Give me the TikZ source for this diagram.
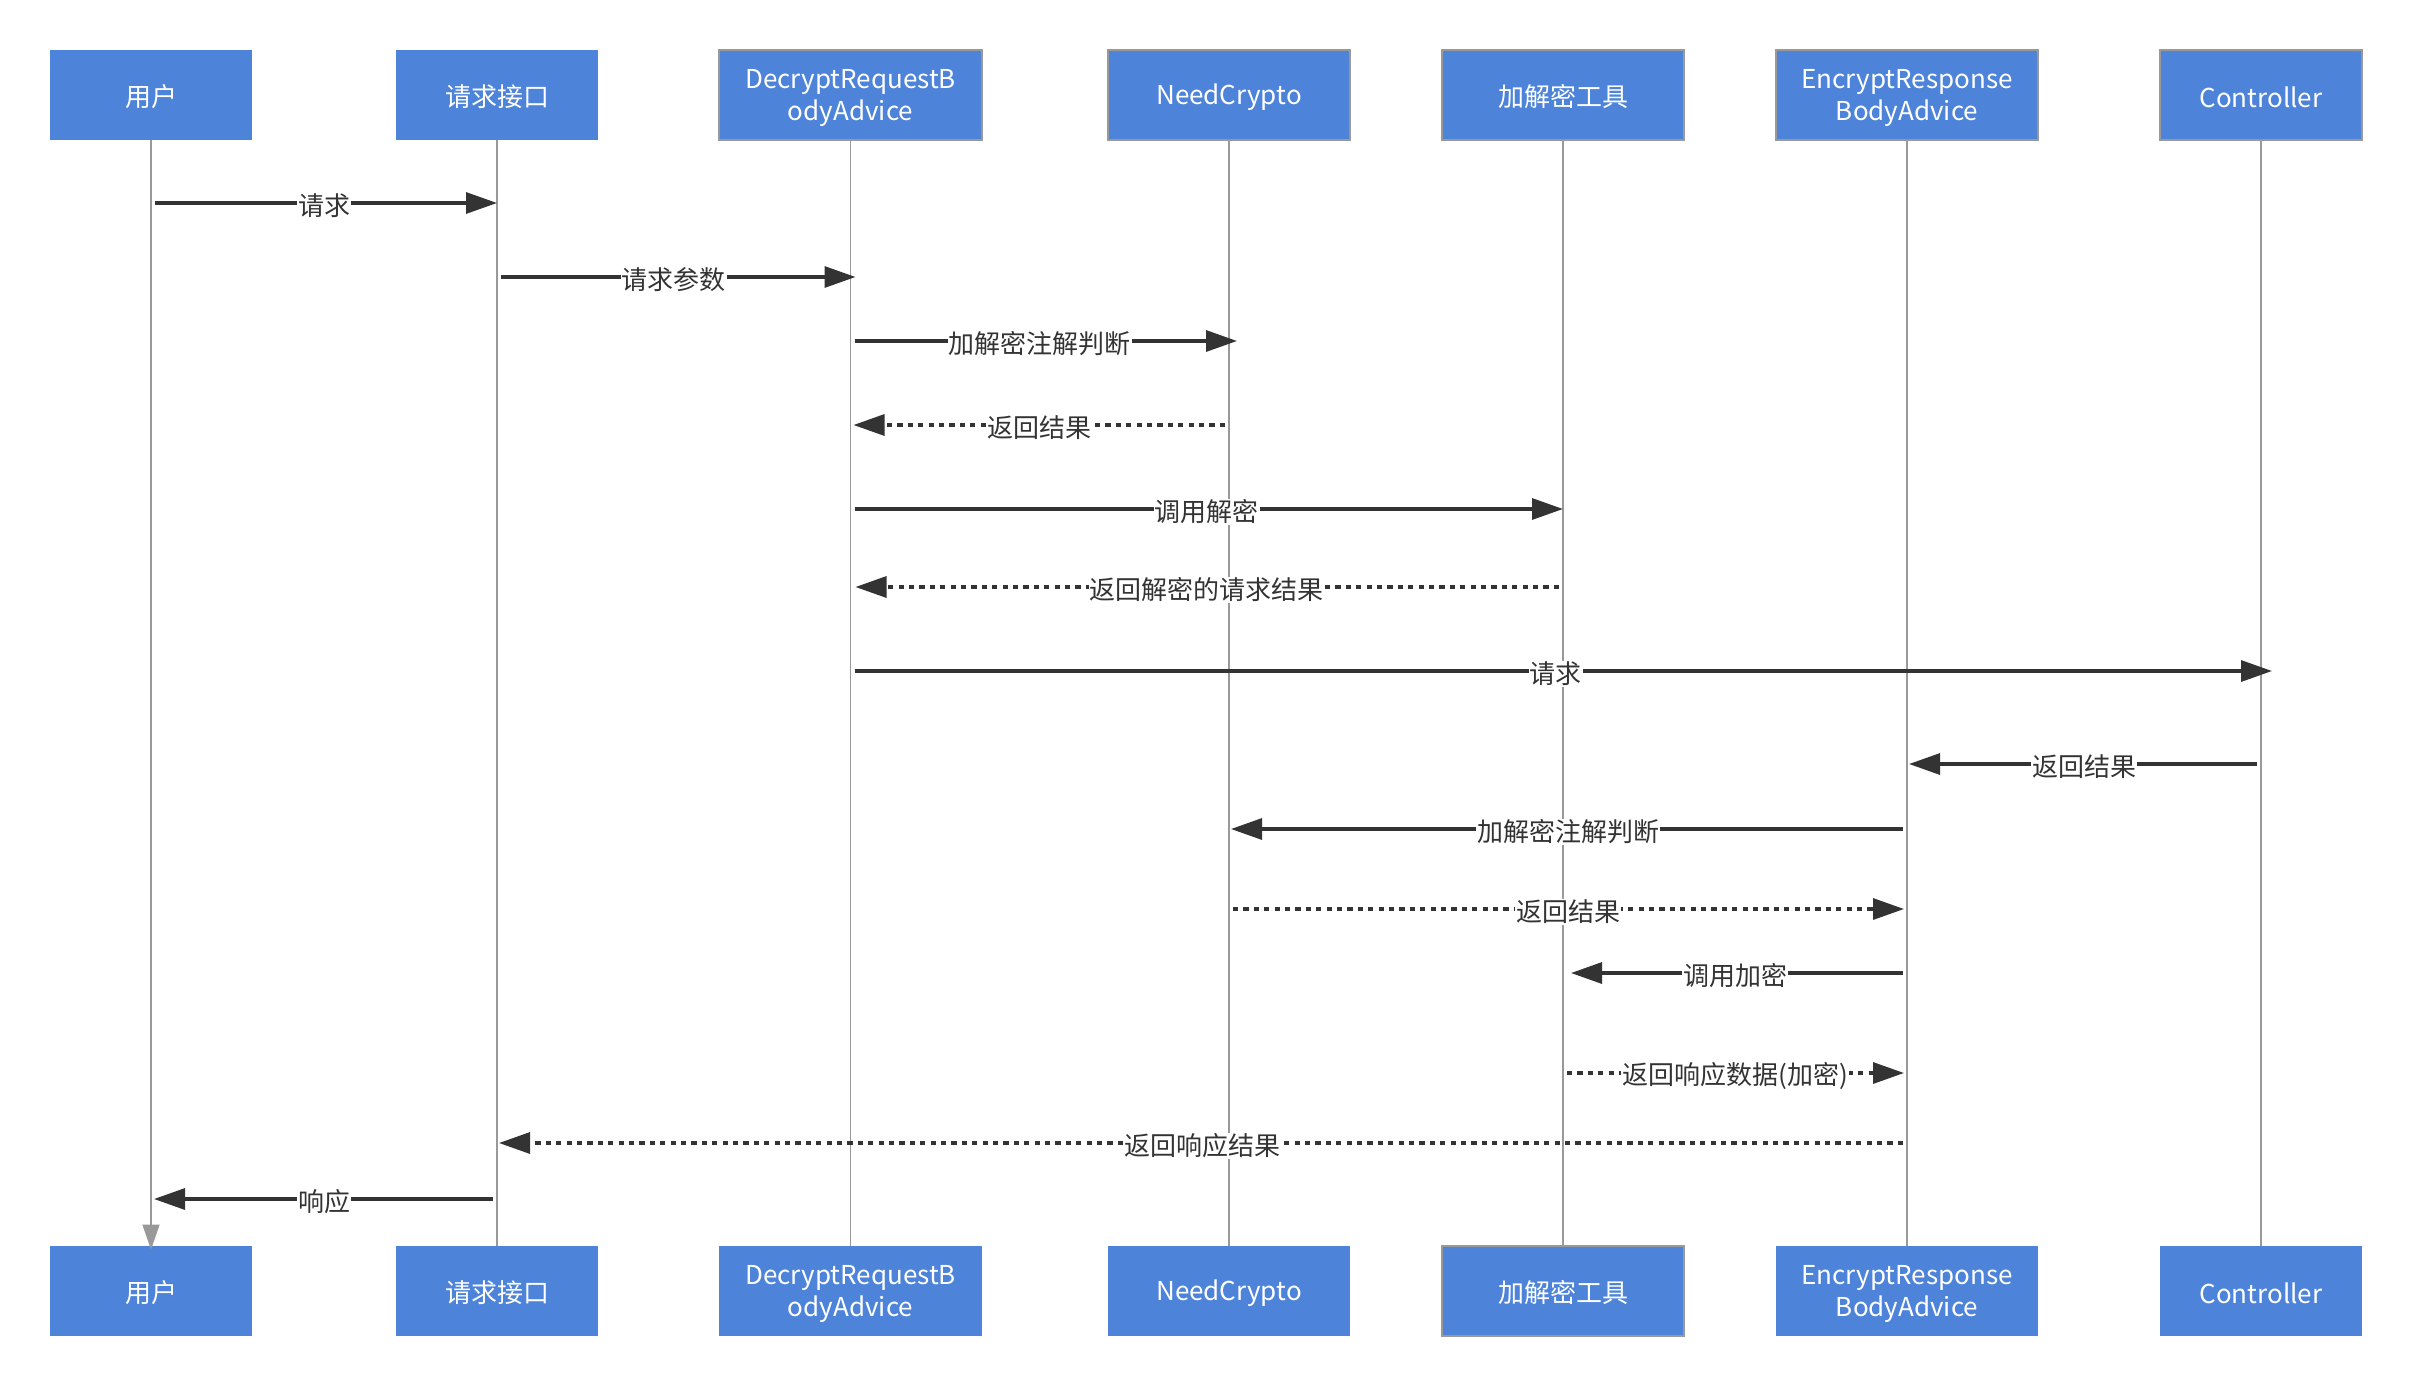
\documentclass[tikz,border=0pt]{standalone}
\usepackage{fontspec}
\setmainfont{Noto Sans CJK SC}
\usetikzlibrary{arrows.meta}
\definecolor{boxblue}{HTML}{4D84D9}
\definecolor{rimgray}{HTML}{999999}
\definecolor{msgdark}{HTML}{333333}
\newcommand\actorstrut{\rule{0pt}{13pt}}
\begin{document}
\begin{tikzpicture}[x=0.5pt,y=-0.5pt,
    actor/.style={fill=boxblue,text=white,minimum height=45pt,inner sep=0pt,
      align=center,font=\fontsize{13}{16}\selectfont},
    rim/.style={draw=rimgray,line width=1pt},
    life/.style={draw=rimgray,line width=0.75pt},
    msg/.style={draw=msgdark,line width=1.6pt,
      -{Triangle[length=15.5pt,width=10.5pt]},shorten <=2pt},
    reply/.style={msg,dash pattern=on 2.6pt off 2.6pt},
    lbl/.style={fill=white,text=msgdark,inner sep=0.6pt,yshift=-1.5pt,
      font=\fontsize{13}{16}\selectfont}]
  \useasboundingbox (0,0) rectangle (2412,1386);
  % participants, top row
  \node[actor,minimum width=101pt] (user) at (151,95) {\actorstrut 用户};
  \node[actor,minimum width=101pt] (api) at (497,95) {\actorstrut 请求接口};
  \node[actor,rim,minimum width=131.5pt] (dec) at (850.5,95) {\actorstrut DecryptRequestB\\odyAdvice};
  \node[actor,rim,minimum width=121pt] (need) at (1229,95) {\actorstrut NeedCrypto};
  \node[actor,rim,minimum width=121pt] (tool) at (1563,95) {\actorstrut 加解密工具};
  \node[actor,rim,minimum width=131pt] (enc) at (1907,95) {\actorstrut EncryptResponse\\BodyAdvice};
  \node[actor,rim,minimum width=101pt] (ctrl) at (2261,95) {\actorstrut Controller};
  % participants, bottom row
  \node[actor,minimum width=101pt] (user2) at (151,1291) {\actorstrut 用户};
  \node[actor,minimum width=101pt] (api2) at (497,1291) {\actorstrut 请求接口};
  \node[actor,minimum width=131.5pt] (dec2) at (850.5,1291) {\actorstrut DecryptRequestB\\odyAdvice};
  \node[actor,minimum width=121pt] (need2) at (1229,1291) {\actorstrut NeedCrypto};
  \node[actor,rim,minimum width=121pt] (tool2) at (1563,1291) {\actorstrut 加解密工具};
  \node[actor,minimum width=131pt] (enc2) at (1907,1291) {\actorstrut EncryptResponse\\BodyAdvice};
  \node[actor,minimum width=101pt] (ctrl2) at (2261,1291) {\actorstrut Controller};
  % lifelines
  \begin{scope}[life]
    \draw[-{Triangle[length=12.5pt,width=8.5pt]},fill=rimgray] (user.south) to ([yshift=-2pt]user2.north);
    \draw (api.south) to (api2.north);
    \draw (dec.south) to (dec2.north);
    \draw (need.south) to (need2.north);
    \draw (tool.south) to (tool2.north);
    \draw (enc.south) to (enc2.north);
    \draw (ctrl.south) to (ctrl2.north);
  \end{scope}
  % messages
  \draw[msg] (user |- 0,203) to node[lbl]{请求} (api |- 0,203);
  \draw[msg,shorten >=-2.5pt] (api |- 0,277) to node[lbl]{请求参数} (dec |- 0,277);
  \draw[msg,shorten >=-4pt] (dec |- 0,341) to node[lbl]{加解密注解判断} (need |- 0,341);
  \draw[reply,shorten >=1.5pt] (need |- 0,425) to node[lbl]{返回结果} (dec |- 0,425);
  \draw[msg] (dec |- 0,509) to node[lbl]{调用解密} (tool |- 0,509);
  \draw[reply,shorten >=2.5pt] (tool |- 0,587) to node[lbl]{返回解密的请求结果} (dec |- 0,587);
  \draw[msg,shorten >=-5.5pt] (dec |- 0,671) to node[lbl]{请求} (ctrl |- 0,671);
  \draw[msg,shorten >=1pt] (ctrl |- 0,764) to node[lbl]{返回结果} (enc |- 0,764);
  \draw[msg,shorten >=1pt] (enc |- 0,829) to node[lbl]{加解密注解判断} (need |- 0,829);
  \draw[reply,shorten >=1.5pt] (need |- 0,909) to node[lbl]{返回结果} (enc |- 0,909);
  \draw[msg,shorten >=4pt] (enc |- 0,973) to node[lbl]{调用加密} (tool |- 0,973);
  \draw[reply,shorten >=1.5pt] (tool |- 0,1073) to node[lbl]{返回响应数据(加密)} (enc |- 0,1073);
  \draw[reply,shorten >=1pt] (enc |- 0,1143) to node[lbl]{返回响应结果} (api |- 0,1143);
  \draw[msg,shorten >=1.5pt] (api |- 0,1199) to node[lbl]{响应} (user |- 0,1199);
\end{tikzpicture}
\end{document}
